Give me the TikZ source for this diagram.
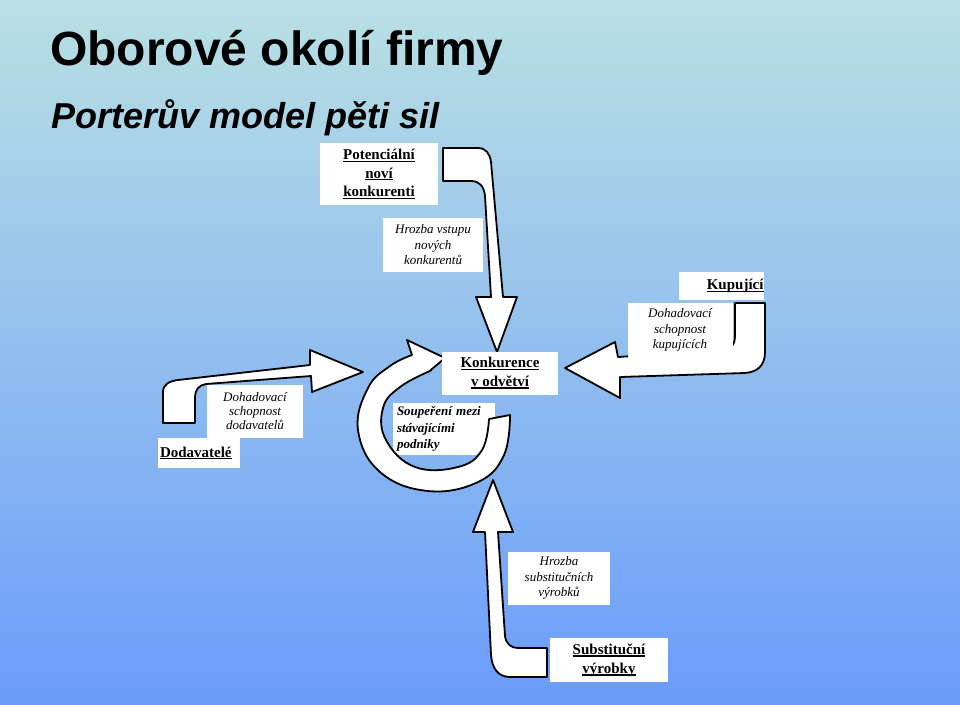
\documentclass[tikz,border=0pt]{standalone}
\usepackage{fontspec}
\setmainfont{Liberation Serif}
\newfontfamily\titlefont{Liberation Sans}
\usepackage{xcolor}
\usepackage{tikz}
\definecolor{bgtop}{HTML}{B9E0E3}
\definecolor{bgbot}{HTML}{6A9CFA}
\newcommand{\ulx}[1]{\setbox0\hbox{#1}\rlap{\rule[-2.4pt]{\wd0}{1.3pt}}\box0}
\tikzset{box/.style={fill=white,inner sep=0pt,align=center}}
\tikzset{bold/.style={box,font=\fontsize{15}{18.5}\selectfont\bfseries}}
\tikzset{ital/.style={box,font=\fontsize{13}{15.5}\selectfont\itshape}}
\tikzset{arr/.style={draw=black,fill=white,line width=1.8pt,line join=round}}

\begin{document}
\begin{tikzpicture}[x=1pt,y=-1pt]
    \shade[top color=bgtop,bottom color=bgbot] (0,0) rectangle (960,704);

    \node[anchor=base west,inner sep=0pt,font=\titlefont\fontsize{48}{48}\selectfont\bfseries] (title)at (50,65) {Oborové okolí firmy};
    \node[anchor=base west,inner sep=0pt,font=\titlefont\fontsize{36}{36}\selectfont\bfseries\itshape] (subtitle)at (51,128) {Porterův model pěti sil};

    \node[box,font=\fontsize{13}{16.5}\selectfont\bfseries\itshape,align=left,text width=94,inner xsep=4,minimum height=52] (soup)at (444,429) {Soupeření mezi\\stávajícími\\podniky};

    \draw [arr] (443,148) -- (478,148) .. controls (486,148) and (490,154) .. (491,162) -- (503,297) -- (517,297) -- (497,352) -- (476,297) -- (491,297) -- (485,196) .. controls (484,186) and (479,181) .. (471,181) -- (443,181) -- cycle;
    \draw [arr] (163,423) -- (163,392) .. controls (163,384) and (170,381) .. (178,380) -- (310,365) -- (310,350) -- (363,372) -- (312,392) -- (311,376) -- (206,384) .. controls (199,385) and (195,390) .. (195,397) -- (195,423) -- cycle;
    \draw [arr] (765,303) -- (765,352) .. controls (765,366) and (757,372) .. (745,373) -- (620,377) -- (620,398) -- (565,368) -- (615,342) -- (618,357) -- (725,350) .. controls (731,349) and (735,344) .. (735,337) -- (735,303) -- cycle;
    \draw [arr] (493,480) -- (513,532) -- (498,532) -- (505,636) .. controls (506,644) and (511,648) .. (518,648) -- (547,648) -- (547,677) -- (510,677) .. controls (498,677) and (492,668) .. (491,655) -- (485,532) -- (473,532) -- cycle;
    \draw [arr] plot[smooth,tension=0.7] coordinates {(510,415) (504,455) (478,482) (428,491) (380,472) (358,430) (368,388) (390,366) (412,355)} -- (407,340) -- (445,358) -- (432,369) -- plot[smooth,tension=0.7] coordinates {(430,371) (400,387) (383,408) (386,440) (415,467) (458,467) (482,450) (489,419)} -- cycle;

    \node[bold,minimum width=118,minimum height=62] (pot)at (379,174) {\ulx{Potenciální}\\\ulx{noví}\\\ulx{konkurenti}};
    \node[ital,minimum width=100,minimum height=54] (hroz)at (433,245) {Hrozba vstupu\\nových\\konkurentů};
    \node[bold,align=right,text width=85,minimum height=28] (kup)at (721,286) {\ulx{Kupující}};
    \node[ital,minimum width=105,minimum height=55] (dkup)at (680,330) {Dohadovací\\schopnost\\kupujících};
    \node[bold,minimum width=116,minimum height=43] (konk)at (500,373) {\ulx{Konkurence}\\\ulx{v odvětví}};
    \node[box,font=\fontsize{13}{14}\selectfont\itshape,minimum width=96,minimum height=53] (ddod)at (255,411) {Dohadovací\\schopnost\\dodavatelů};
    \node[bold,align=left,text width=78,inner xsep=2,minimum height=30] (dod)at (199,453) {\ulx{Dodavatelé}};
    \node[ital,minimum width=102,minimum height=53] (hsub)at (559,578) {Hrozba\\substitučních\\výrobků};
    \node[bold,font=\fontsize{15}{19}\selectfont\bfseries,minimum width=118,minimum height=44] (subv)at (609,660) {\ulx{Substituční}\\\ulx{výrobky}};
\end{tikzpicture}
\end{document}
